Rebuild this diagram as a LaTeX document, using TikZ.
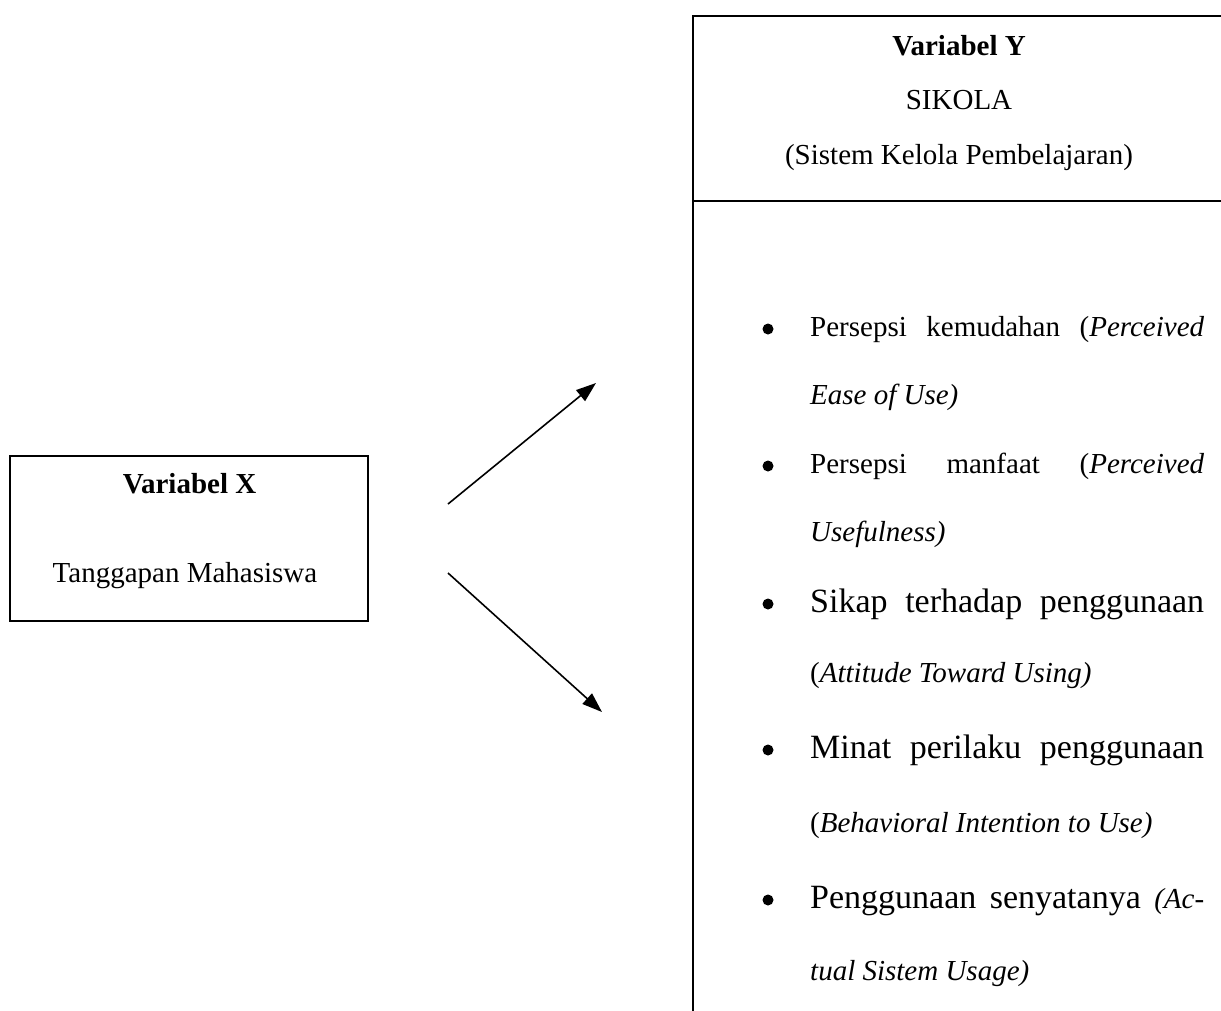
\documentclass[tikz,border=0pt]{standalone}
\usepackage{fontspec}
\setmainfont{Liberation Serif}
\usetikzlibrary{arrows.meta}
\tikzset{
  txt/.style={inner sep=0pt, anchor=base west},
  ctr/.style={inner sep=0pt, anchor=base},
  sm/.style={font=\fontsize{29}{34}\selectfont},
  lg/.style={font=\fontsize{34}{40}\selectfont},
  bul/.style={circle, fill=black, inner sep=0pt, minimum size=11pt},
  arr/.style={line width=1.6pt, -{Triangle[length=20pt,width=14pt]}},
  frame/.style={line width=2.6pt},
  xframe/.style={draw, line width=2pt, inner sep=0pt},
}
\newcommand{\jline}[1]{\makebox[394pt][s]{#1}}
\begin{document}
\begin{tikzpicture}[x=1pt,y=-1pt]
\useasboundingbox (0,0) rectangle (1221,1010);

% left box
\node[xframe, minimum width=358pt, minimum height=165pt] (xbox) at (189,538.5) {};
\node[ctr, sm] (xtitle) at (189.5,493) {\textbf{Variabel X}};
\node[ctr, sm] (xsub) at (185,582) {Tanggapan Mahasiswa};

% right box frame
\coordinate (ybl) at (693,1012);
\coordinate (ytl) at (693,16);
\coordinate (ytr) at (1222,16);
\coordinate (yhl) at (693,201);
\coordinate (yhr) at (1222,201);
\draw[frame] (ybl) -- (ytl) -- (ytr);
\draw[frame] (yhl) -- (yhr);

% header
\node[ctr, sm] (ytitle) at (959,55) {\textbf{Variabel Y}};
\node[ctr, sm] (ysik) at (959,109) {SIKOLA};
\node[ctr, sm] (ysys) at (959,164) {(Sistem Kelola Pembelajaran)};

% bullets
\node[bul] (b1) at (768,329) {};
\node[bul] (b2) at (768,466) {};
\node[bul] (b3) at (768,604) {};
\node[bul] (b4) at (768,750) {};
\node[bul] (b5) at (768,900) {};

% list text
\node[txt, sm] (l1) at (810,336) {\jline{Persepsi kemudahan (\textit{Perceived}}};
\node[txt, sm] (l2) at (810,404) {\textit{Ease of Use)}};
\node[txt, sm] (l3) at (810,473) {\jline{Persepsi manfaat (\textit{Perceived}}};
\node[txt, sm] (l4) at (810,541) {\textit{Usefulness)}};
\node[txt, lg] (l5) at (810,612) {\jline{Sikap terhadap penggunaan}};
\node[txt, sm] (l6) at (810,682) {(\textit{Attitude Toward Using)}};
\node[txt, lg] (l7) at (810,758) {\jline{Minat perilaku penggunaan}};
\node[txt, sm] (l8) at (810,832) {(\textit{Behavioral Intention to Use)}};
\node[txt, lg] (l9) at (810,908) {\jline{Penggunaan senyatanya {\fontsize{29}{34}\selectfont\itshape (Ac-}}};
\node[txt, sm] (l10) at (810,980) {\textit{tual Sistem Usage)}};

% arrows
\coordinate (a1s) at (448,504);
\coordinate (a1e) at (596,383);
\coordinate (a2s) at (448,573);
\coordinate (a2e) at (602,712);
\draw[arr] (a1s) -- (a1e);
\draw[arr] (a2s) -- (a2e);
\end{tikzpicture}
\end{document}
